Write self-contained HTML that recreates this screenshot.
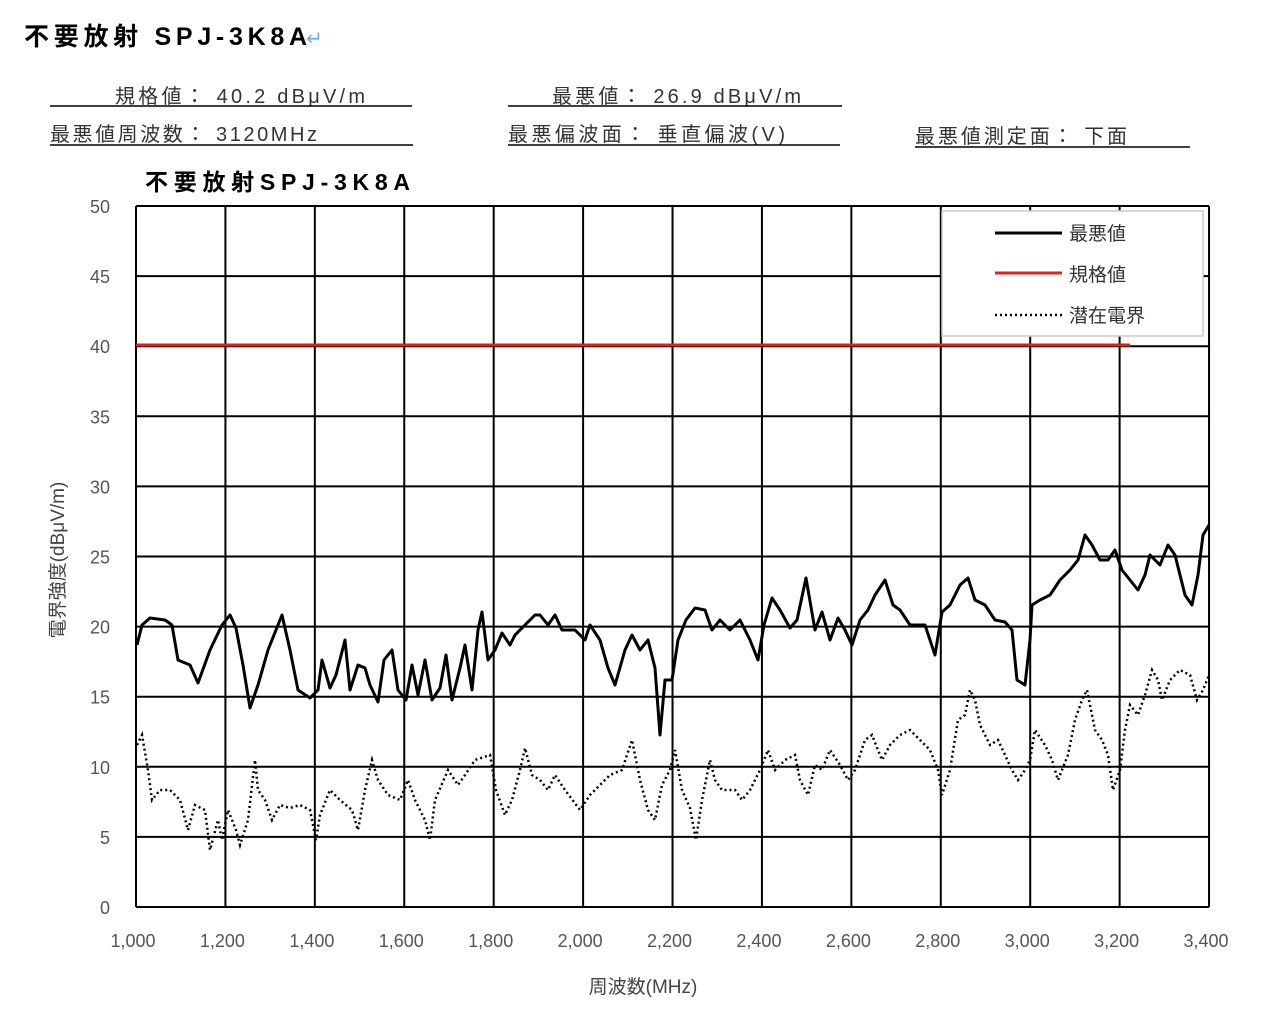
<!DOCTYPE html>
<html><head><meta charset="utf-8"><style>
body{margin:0;background:#fff;width:1274px;height:1028px;overflow:hidden;font-family:"Liberation Sans","Noto Sans CJK JP",sans-serif;}
</style></head><body>
<svg width="1274" height="1028" xmlns="http://www.w3.org/2000/svg" font-family="Liberation Sans, Noto Sans CJK JP, sans-serif">
<text x="24" y="45" font-size="25" font-weight="bold" fill="#000" textLength="283" lengthAdjust="spacing">不要放射 SPJ-3K8A</text>
<text x="306" y="45" font-size="20" fill="#6aaef0">↵</text>
<g font-size="20" fill="#333">
<text x="115" y="103" textLength="250" lengthAdjust="spacing">規格値： 40.2 dBμV/m</text>
<text x="50" y="141" textLength="267" lengthAdjust="spacing">最悪値周波数： 3120MHz</text>
<text x="552" y="103" textLength="249" lengthAdjust="spacing">最悪値： 26.9 dBμV/m</text>
<text x="508" y="141" textLength="277" lengthAdjust="spacing">最悪偏波面： 垂直偏波(V)</text>
<text x="915" y="143" textLength="212" lengthAdjust="spacing">最悪値測定面： 下面</text>
</g>
<g stroke="#000" stroke-width="1.5">
<line x1="50" y1="106" x2="412" y2="106"/><line x1="50" y1="145" x2="413" y2="145"/>
<line x1="508" y1="106" x2="842" y2="106"/><line x1="508" y1="145" x2="840" y2="145"/>
<line x1="915" y1="147" x2="1190" y2="147"/>
</g>
<text x="145" y="190" font-size="23" font-weight="bold" fill="#000" textLength="265" lengthAdjust="spacing">不要放射SPJ-3K8A</text>
<g id="grid" stroke="#000" stroke-width="2"></g>
<g font-size="18" fill="#555" text-anchor="end" id="yl"></g>
<g font-size="18" fill="#555" text-anchor="middle" id="xl"></g>
<text x="643" y="993" font-size="19" fill="#444" text-anchor="middle">周波数(MHz)</text>
<text transform="translate(64,560) rotate(-90)" font-size="19" fill="#444" text-anchor="middle">電界強度(dBμV/m)</text>
<line x1="136" y1="345" x2="1130" y2="345" stroke="#e0201a" stroke-width="3"/>
<polyline id="blk" fill="none" stroke="#000" stroke-width="3" stroke-linejoin="round" points="137,645 142,625 150,618 165,620 172,625 178,660 190,665 198,683 210,650 222,625 230,615 236,628 243,665 250,708 258,685 268,650 278,625 282,615 290,650 298,690 310,698 318,690 322,660 330,688 336,675 345,640 350,690 358,665 365,668 370,685 378,702 384,660 392,650 398,690 406,700 412,665 418,695 425,660 432,700 440,688 446,655 452,700 460,668 465,645 472,690 478,630 482,612 488,660 495,650 502,633 510,645 515,635 525,625 535,615 540,615 548,625 555,615 562,630 575,630 585,640 590,625 600,640 608,668 615,685 625,650 632,635 640,650 648,640 655,668 660,735 665,680 672,680 678,640 686,620 695,608 705,610 712,630 720,620 730,630 740,620 750,640 758,660 764,625 772,598 780,610 790,628 797,620 806,578 815,630 822,612 830,640 838,618 845,630 852,645 860,620 868,610 875,595 885,580 893,605 900,610 910,625 925,625 935,655 942,612 950,605 960,585 968,578 975,600 985,605 995,620 1005,622 1012,630 1017,680 1025,685 1030,640 1032,605 1040,600 1050,595 1060,580 1070,570 1078,560 1085,535 1092,545 1100,560 1108,560 1115,550 1122,570 1130,580 1138,590 1145,575 1150,555 1160,565 1168,545 1175,555 1180,575 1185,595 1192,605 1198,575 1203,535 1209,525"/>
<polyline id="dot" fill="none" stroke="#000" stroke-width="2.5" stroke-dasharray="2 3" points="137,745 142,735 148,770 152,800 160,790 170,790 180,800 188,830 195,805 205,810 210,850 218,820 222,840 228,810 236,830 240,845 248,820 255,760 258,790 265,800 272,820 280,805 290,808 300,805 310,810 316,840 320,815 330,790 340,800 352,810 358,830 365,790 372,760 378,780 388,795 400,800 408,780 415,800 425,820 430,840 435,800 448,770 458,785 465,775 475,760 490,755 496,790 505,815 512,800 520,770 525,748 532,775 540,780 548,790 555,775 565,790 580,810 590,795 600,785 610,775 622,770 632,740 640,780 648,810 655,820 662,785 670,770 675,750 682,790 690,808 696,840 702,800 710,760 715,780 722,790 735,790 742,800 750,790 760,770 768,750 775,770 785,760 795,755 800,780 808,795 815,765 822,770 830,750 840,765 848,780 855,770 865,740 872,735 882,760 890,745 900,735 910,730 920,740 930,750 938,770 942,795 950,770 958,720 965,715 970,690 975,700 980,725 990,745 998,740 1005,755 1012,770 1018,780 1025,770 1030,760 1035,730 1045,745 1052,760 1058,780 1068,755 1075,720 1082,700 1087,690 1095,730 1102,740 1108,755 1113,790 1120,770 1125,730 1130,705 1138,715 1145,695 1152,670 1158,680 1162,700 1170,680 1180,670 1190,675 1197,700 1203,690 1209,675"/>
<rect x="942" y="211" width="261" height="125" fill="#fff" stroke="#ccc" stroke-width="1.5"/>
<line x1="995" y1="233" x2="1062" y2="233" stroke="#000" stroke-width="3"/>
<line x1="995" y1="273" x2="1062" y2="273" stroke="#e0201a" stroke-width="3"/>
<line x1="995" y1="315" x2="1062" y2="315" stroke="#000" stroke-width="2.5" stroke-dasharray="2 3"/>
<g font-size="19" fill="#333">
<text x="1069" y="240">最悪値</text><text x="1069" y="281">規格値</text><text x="1069" y="322">潜在電界</text>
</g>
<script>
var g=document.getElementById('grid'),yl=document.getElementById('yl'),xl=document.getElementById('xl'),ns='http://www.w3.org/2000/svg';
function el(p,t,a,txt){var e=document.createElementNS(ns,t);for(var k in a)e.setAttribute(k,a[k]);if(txt!=null)e.textContent=txt;p.appendChild(e);}
for(var i=0;i<=10;i++){var y=907-i*70.1;el(g,'line',{x1:136,x2:1209,y1:y,y2:y});el(yl,'text',{x:110,y:y+7},String(i*5));}
for(var j=0;j<=12;j++){var x=136+j*89.42;el(g,'line',{x1:x,x2:x,y1:206,y2:907});var f=1000+200*j;el(xl,'text',{x:x-3,y:947},f.toLocaleString('en-US'));}
</script>
</svg>
</body></html>
